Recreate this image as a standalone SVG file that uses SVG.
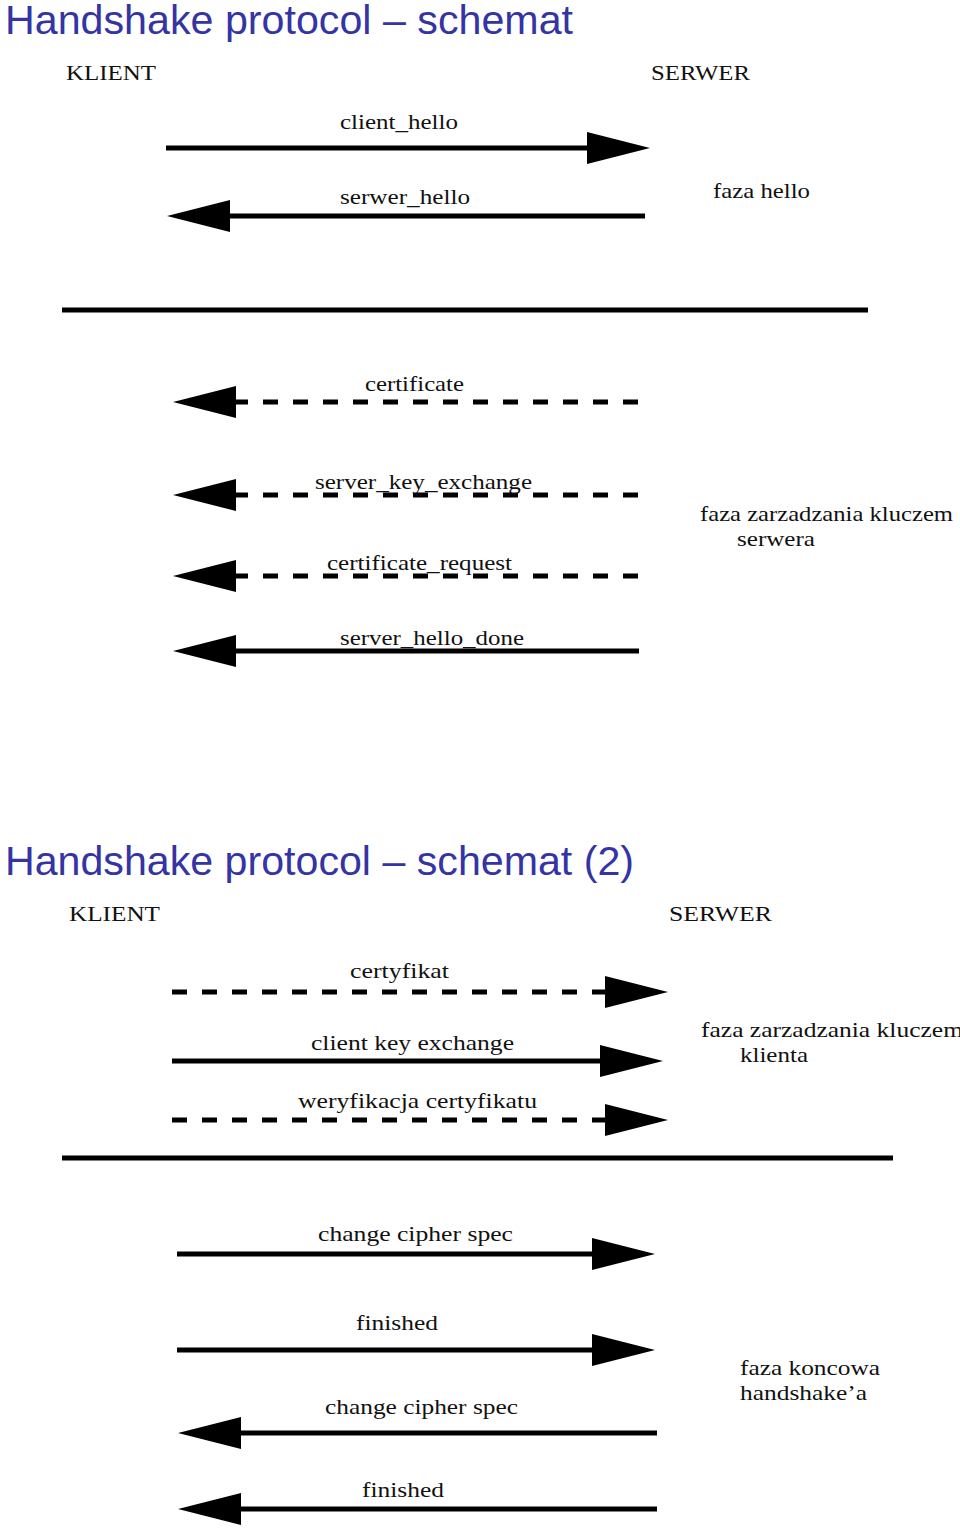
<svg xmlns="http://www.w3.org/2000/svg" width="960" height="1528" viewBox="0 0 960 1528">
<style>
.title{font-family:"Liberation Sans",Arial,sans-serif;font-size:41px;fill:#3434a4}
.hdr{font-family:"Liberation Serif","Times New Roman",serif;font-size:22px;fill:#111}
.lbl{font-family:"Liberation Serif","Times New Roman",serif;font-size:21px;fill:#111}
.msg{stroke:#000;stroke-width:5;fill:none}
.dash{stroke-dasharray:15 15}
.sep{stroke:#000;stroke-width:5}
</style>
<defs>
<marker id="ah" viewBox="0 0 63 32" refX="0" refY="16" markerWidth="63" markerHeight="32" markerUnits="userSpaceOnUse" orient="auto">
<path d="M0,0 L63,16 L0,32 Z" fill="#000"/>
</marker>
</defs>
<rect width="960" height="1528" fill="#fff"/>

<text class="title" x="5" y="34" textLength="568" lengthAdjust="spacingAndGlyphs">Handshake protocol – schemat</text>
<text class="title" x="5" y="875" textLength="629" lengthAdjust="spacingAndGlyphs">Handshake protocol – schemat (2)</text>

<g id="klient1"><text class="hdr" x="66" y="80" textLength="90" lengthAdjust="spacingAndGlyphs">KLIENT</text></g>
<g id="serwer1"><text class="hdr" x="651" y="80" textLength="99" lengthAdjust="spacingAndGlyphs">SERWER</text></g>
<g id="faza-hello"><text class="lbl" x="713" y="198" textLength="97" lengthAdjust="spacingAndGlyphs">faza hello</text></g>
<g id="faza-serwera">
<text class="lbl" x="700" y="521" textLength="253" lengthAdjust="spacingAndGlyphs">faza zarzadzania kluczem</text>
<text class="lbl" x="737" y="546" textLength="78" lengthAdjust="spacingAndGlyphs">serwera</text>
</g>

<g id="klient2"><text class="hdr" x="69" y="921" textLength="91" lengthAdjust="spacingAndGlyphs">KLIENT</text></g>
<g id="serwer2"><text class="hdr" x="669" y="921" textLength="103" lengthAdjust="spacingAndGlyphs">SERWER</text></g>
<g id="faza-klienta">
<text class="lbl" x="701" y="1037" textLength="262" lengthAdjust="spacingAndGlyphs">faza zarzadzania kluczem</text>
<text class="lbl" x="740" y="1062" textLength="68" lengthAdjust="spacingAndGlyphs">klienta</text>
</g>
<g id="faza-koncowa">
<text class="lbl" x="740" y="1375" textLength="140" lengthAdjust="spacingAndGlyphs">faza koncowa</text>
<text class="lbl" x="740" y="1400" textLength="127" lengthAdjust="spacingAndGlyphs">handshake’a</text>
</g>

<g id="separators">
<line class="sep" x1="62" y1="310" x2="868" y2="310"/>
<line class="sep" x1="62" y1="1158" x2="893" y2="1158"/>
</g>

<g id="connectors">
<line class="msg" x1="166" y1="148" x2="587" y2="148" marker-end="url(#ah)"/>
<text class="lbl" x="340" y="129" textLength="118" lengthAdjust="spacingAndGlyphs">client_hello</text>

<line class="msg" x1="645" y1="216" x2="230" y2="216" marker-end="url(#ah)"/>
<text class="lbl" x="340" y="204" textLength="130" lengthAdjust="spacingAndGlyphs">serwer_hello</text>

<line class="msg dash" x1="638" y1="402" x2="236" y2="402" marker-end="url(#ah)"/>
<text class="lbl" x="365" y="391" textLength="99" lengthAdjust="spacingAndGlyphs">certificate</text>

<line class="msg dash" x1="638" y1="495" x2="236" y2="495" marker-end="url(#ah)"/>
<text class="lbl" x="315" y="489" textLength="217" lengthAdjust="spacingAndGlyphs">server_key_exchange</text>

<line class="msg dash" x1="638" y1="576" x2="236" y2="576" marker-end="url(#ah)"/>
<text class="lbl" x="327" y="570" textLength="185" lengthAdjust="spacingAndGlyphs">certificate_request</text>

<line class="msg" x1="639" y1="651" x2="236" y2="651" marker-end="url(#ah)"/>
<text class="lbl" x="340" y="645" textLength="184" lengthAdjust="spacingAndGlyphs">server_hello_done</text>

<line class="msg dash" x1="172" y1="992" x2="605" y2="992" marker-end="url(#ah)"/>
<text class="lbl" x="350" y="978" textLength="99" lengthAdjust="spacingAndGlyphs">certyfikat</text>

<line class="msg" x1="172" y1="1061" x2="600" y2="1061" marker-end="url(#ah)"/>
<text class="lbl" x="311" y="1050" textLength="203" lengthAdjust="spacingAndGlyphs">client key exchange</text>

<line class="msg dash" x1="172" y1="1120" x2="605" y2="1120" marker-end="url(#ah)"/>
<text class="lbl" x="298" y="1108" textLength="239" lengthAdjust="spacingAndGlyphs">weryfikacja certyfikatu</text>

<line class="msg" x1="177" y1="1254" x2="592" y2="1254" marker-end="url(#ah)"/>
<text class="lbl" x="318" y="1241" textLength="195" lengthAdjust="spacingAndGlyphs">change cipher spec</text>

<line class="msg" x1="177" y1="1350" x2="592" y2="1350" marker-end="url(#ah)"/>
<text class="lbl" x="356" y="1330" textLength="82" lengthAdjust="spacingAndGlyphs">finished</text>

<line class="msg" x1="657" y1="1433" x2="241" y2="1433" marker-end="url(#ah)"/>
<text class="lbl" x="325" y="1414" textLength="193" lengthAdjust="spacingAndGlyphs">change cipher spec</text>

<line class="msg" x1="657" y1="1509" x2="241" y2="1509" marker-end="url(#ah)"/>
<text class="lbl" x="362" y="1497" textLength="82" lengthAdjust="spacingAndGlyphs">finished</text>
</g>
</svg>
